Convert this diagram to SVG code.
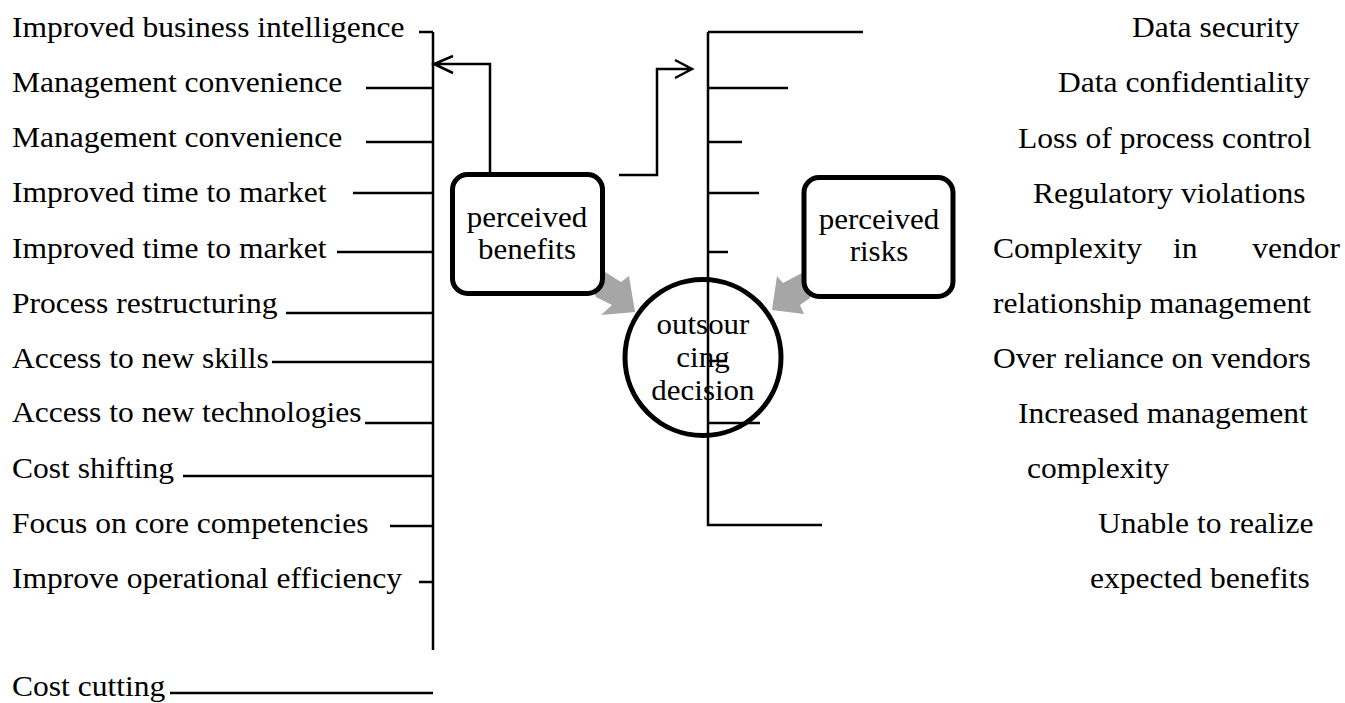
<svg xmlns="http://www.w3.org/2000/svg" width="1345" height="703" viewBox="0 0 1345 703">
<style>
.t{font-family:"Liberation Serif","Times New Roman",serif;font-size:29.5px;fill:#000}
.b{font-family:"Liberation Serif","Times New Roman",serif;font-size:29.5px;fill:#000;text-anchor:middle}
.ln{stroke:#000;stroke-width:2.5;fill:none}
.box{fill:#fff;stroke:#000;stroke-width:5}
.flow{fill:#a6a6a6;stroke:none}
</style>
<rect width="1345" height="703" fill="#fff"/>
<g id="flow-arrows">
<polygon class="flow" points="591,284 605,272 621,282 629,276 635,312 601,315 612,305 596,297"/>
<polygon class="flow" points="812,286 802,273 783,283 777,276 772,310 804,314 800,305 810,298"/>
</g>
<g id="node-benefits">
<rect class="box" x="452.5" y="174.5" width="150" height="119" rx="15"/>
<g transform="scale(1.05,1)"><text class="b" x="501.9" y="227">perceived</text><text class="b" x="501.9" y="259">benefits</text></g>
</g>
<g id="node-risks">
<rect class="box" x="804" y="177.5" width="149" height="119" rx="15"/>
<g transform="scale(1.05,1)"><text class="b" x="837.1" y="229">perceived</text><text class="b" x="837.1" y="261">risks</text></g>
</g>
<g id="node-decision">
<circle cx="703" cy="357.5" r="78" fill="#fff" stroke="#000" stroke-width="5"/>
<g transform="scale(1.05,1)"><text class="b" x="669.5" y="334">outsour</text><text class="b" x="669.5" y="367">cing</text><text class="b" x="669.5" y="400">decision</text></g>
</g>
<g id="connectors">
<path class="ln" d="M433,32 V650 M419,32 H433 M366,88 H433 M366,142 H433 M353,193 H433 M337,252 H433 M286,313 H433 M272,362 H433 M365,423 H433 M183,476 H433 M390,526 H433 M419,582 H433 M170,693 H433"/>
<path class="ln" d="M708,32 V525 H822 M708,32 H863 M708,88 H788 M708,142 H742 M708,193 H759 M708,252 H728 M708,361 H727 M708,423 H760"/>
<path class="ln" d="M490,172 V64 H434 M453,56 L434,64 L453,73"/>
<path class="ln" d="M619,175 H657 V69 H692 M675,60 L692,69 L675,78"/>
</g>
<g id="benefit-labels" transform="scale(1.07,1)">
<text class="t" x="11.2" y="37">Improved business intelligence</text>
<text class="t" x="11.2" y="92">Management convenience</text>
<text class="t" x="11.2" y="147">Management convenience</text>
<text class="t" x="11.2" y="202">Improved time to market</text>
<text class="t" x="11.2" y="258">Improved time to market</text>
<text class="t" x="11.2" y="313">Process restructuring</text>
<text class="t" x="11.2" y="368">Access to new skills</text>
<text class="t" x="11.2" y="422">Access to new technologies</text>
<text class="t" x="11.2" y="478">Cost shifting</text>
<text class="t" x="11.2" y="533">Focus on core competencies</text>
<text class="t" x="11.2" y="588">Improve operational efficiency</text>
<text class="t" x="11.2" y="696">Cost cutting</text>
</g>
<g id="risk-labels" transform="scale(1.07,1)">
<text class="t" x="1057.9" y="37">Data security</text>
<text class="t" x="988.8" y="92">Data confidentiality</text>
<text class="t" x="951.4" y="148">Loss of process control</text>
<text class="t" x="965.4" y="203">Regulatory violations</text>
<text class="t" x="928" y="258">Complexity</text>
<text class="t" x="1096.3" y="258">in</text>
<text class="t" x="1252.3" y="258" text-anchor="end">vendor</text>
<text class="t" x="928" y="313">relationship management</text>
<text class="t" x="928" y="368">Over reliance on vendors</text>
<text class="t" x="951.4" y="423">Increased management</text>
<text class="t" x="959.8" y="478">complexity</text>
<text class="t" x="1026.2" y="533">Unable to realize</text>
<text class="t" x="1018.7" y="588">expected benefits</text>
</g>
</svg>
